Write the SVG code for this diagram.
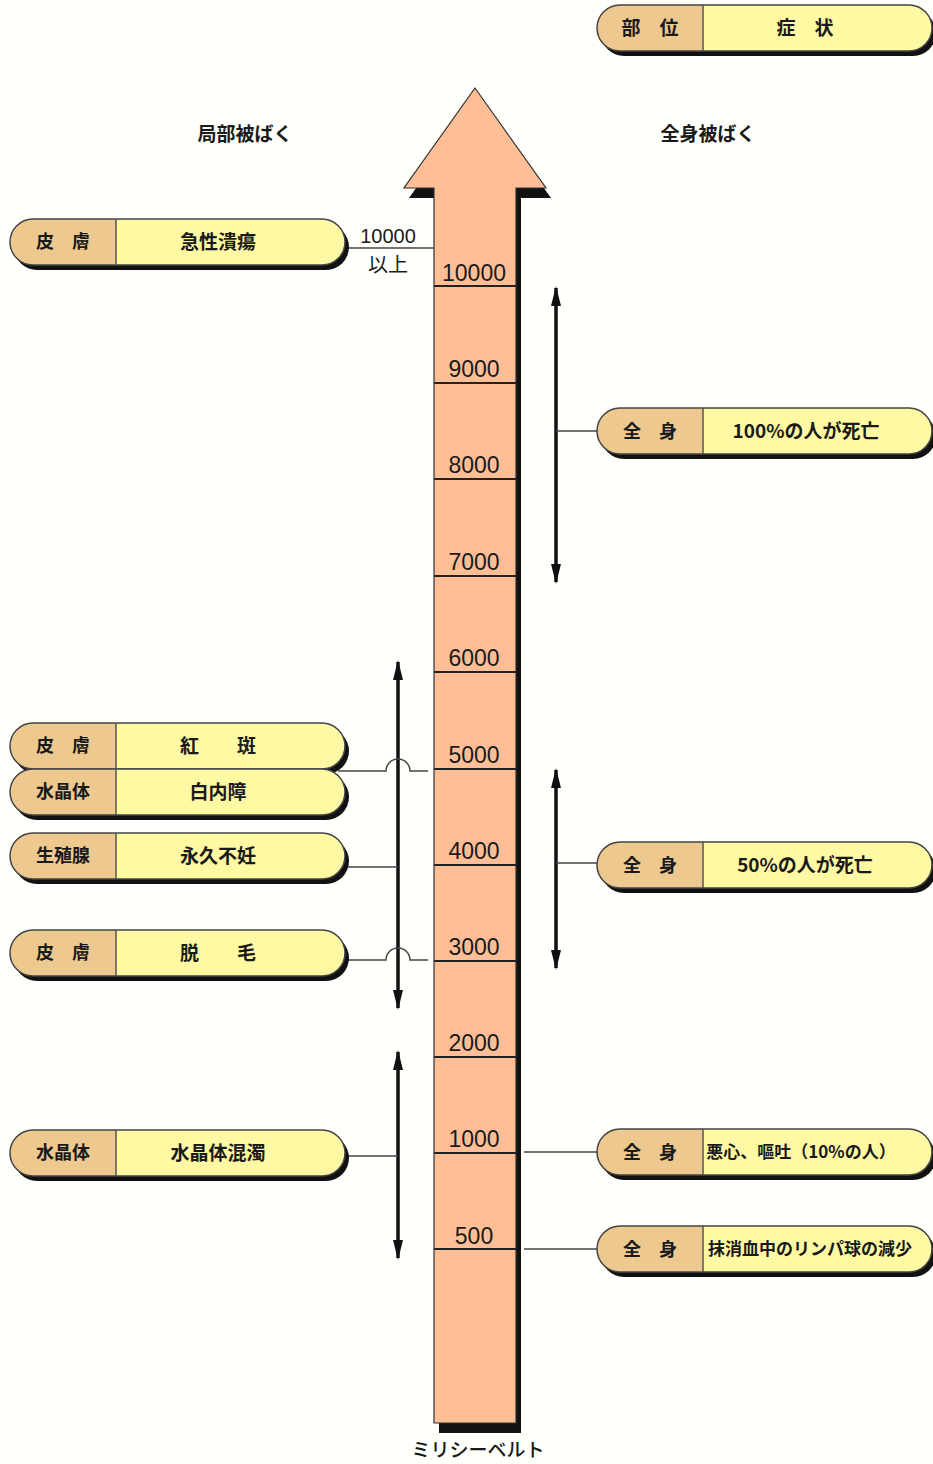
<svg xmlns="http://www.w3.org/2000/svg" xmlns:xlink="http://www.w3.org/1999/xlink" width="933" height="1464" viewBox="0 0 933 1464">
<style>
text{font-family:"Noto Sans CJK JP","Noto Sans",sans-serif;fill:#1a1a1a}
.pl{font-size:18px;font-weight:bold;text-anchor:middle}
.pr{font-size:19px;font-weight:bold;text-anchor:middle}
.hd{font-size:19px;font-weight:bold;text-anchor:middle}
.num{font-family:"Liberation Sans",Arial,sans-serif;font-size:23px;text-anchor:middle}
.sm{font-family:"Liberation Sans","Noto Sans CJK JP",sans-serif;font-size:20px;text-anchor:middle}
.tick{stroke:#222;stroke-width:2}
.con{stroke:#444;stroke-width:1.5;fill:none}
.dbl{stroke:#111;stroke-width:3.5;marker-start:url(#ah);marker-end:url(#ah)}
</style>
<defs>
<marker id="ah" viewBox="0 0 20 10" refX="18" refY="5" markerWidth="20" markerHeight="10" markerUnits="userSpaceOnUse" orient="auto-start-reverse">
<path d="M0,0 L20,5 L0,10 Z" fill="#111"/>
</marker>
<g id="pill">
<rect x="4" y="5" width="335" height="46" rx="23" fill="#111"/>
<rect width="335" height="46" rx="23" fill="#EDC88F"/>
<path d="M106,0 H312 A23,23 0 0 1 312,46 H106 Z" fill="#FFF9A3"/>
<rect width="335" height="46" rx="23" fill="none" stroke="#444" stroke-width="1.5"/>
<line x1="106" y1="0" x2="106" y2="46" stroke="#555" stroke-width="1.5"/>
</g>
</defs>
<rect width="933" height="1464" fill="#FFFFFC"/>

<g id="scale-arrow">
<polygon points="480,98 551,198 521,198 521,1433 439,1433 439,198 409,198" fill="#111"/>
<polygon points="475,88 546,188 516,188 516,1423 434,1423 434,188 404,188" fill="#FFBE96" stroke="#333" stroke-width="1.2"/>
<line class="tick" x1="434" y1="286" x2="516" y2="286"/>
<line class="tick" x1="434" y1="383" x2="516" y2="383"/>
<line class="tick" x1="434" y1="479" x2="516" y2="479"/>
<line class="tick" x1="434" y1="576" x2="516" y2="576"/>
<line class="tick" x1="434" y1="672" x2="516" y2="672"/>
<line class="tick" x1="434" y1="769" x2="516" y2="769"/>
<line class="tick" x1="434" y1="865" x2="516" y2="865"/>
<line class="tick" x1="434" y1="961" x2="516" y2="961"/>
<line class="tick" x1="434" y1="1057" x2="516" y2="1057"/>
<line class="tick" x1="434" y1="1153" x2="516" y2="1153"/>
<line class="tick" x1="434" y1="1249" x2="516" y2="1249"/>
<text class="num" x="474" y="281">10000</text>
<text class="num" x="474" y="377">9000</text>
<text class="num" x="474" y="473">8000</text>
<text class="num" x="474" y="570">7000</text>
<text class="num" x="474" y="666">6000</text>
<text class="num" x="474" y="763">5000</text>
<text class="num" x="474" y="859">4000</text>
<text class="num" x="474" y="955">3000</text>
<text class="num" x="474" y="1051">2000</text>
<text class="num" x="474" y="1147">1000</text>
<text class="num" x="474" y="1244">500</text>
<text class="hd" x="478" y="1457" style="font-weight:500">ミリシーベルト</text>
</g>

<g id="headers">
<text class="hd" x="245" y="141">局部被ばく</text>
<text class="hd" x="708" y="141">全身被ばく</text>
</g>

<g id="connectors">
<line class="con" x1="343" y1="248" x2="434" y2="248"/>
<text class="sm" x="388" y="243">10000</text>
<text class="sm" x="388" y="272">以上</text>
<line class="dbl" x1="398" y1="662" x2="398" y2="1008"/>
<line class="dbl" x1="398" y1="1052" x2="398" y2="1258"/>
<line class="dbl" x1="556" y1="288" x2="556" y2="582"/>
<line class="dbl" x1="556" y1="770" x2="556" y2="968"/>
<path class="con" d="M338,771 H386 A12,12 0 0 1 410,771 H428"/>
<path class="con" d="M343,867 H398"/>
<path class="con" d="M343,960 H386 A12,12 0 0 1 410,960 H428"/>
<path class="con" d="M343,1156 H398"/>
<path class="con" d="M556,431 H600"/>
<path class="con" d="M556,863 H600"/>
<path class="con" d="M524,1152 H600"/>
<path class="con" d="M524,1249 H600"/>
</g>

<g id="legend">
<use xlink:href="#pill" x="597" y="5"/>
<text class="pr" x="650" y="35">部　位</text>
<text class="pr" x="805" y="35">症　状</text>
</g>

<g id="node-skin-ulcer">
<use xlink:href="#pill" x="10" y="219"/>
<text class="pl" x="63" y="248">皮　膚</text>
<text class="pr" x="218" y="249">急性潰瘍</text>
</g>
<g id="node-skin-erythema">
<use xlink:href="#pill" x="10" y="723"/>
<text class="pl" x="63" y="752">皮　膚</text>
<text class="pr" x="218" y="753">紅　　斑</text>
</g>
<g id="node-lens-cataract">
<use xlink:href="#pill" x="10" y="769"/>
<text class="pl" x="63" y="798">水晶体</text>
<text class="pr" x="218" y="799">白内障</text>
</g>
<g id="node-gonad">
<use xlink:href="#pill" x="10" y="833"/>
<text class="pl" x="63" y="862">生殖腺</text>
<text class="pr" x="218" y="863">永久不妊</text>
</g>
<g id="node-skin-hair">
<use xlink:href="#pill" x="10" y="930"/>
<text class="pl" x="63" y="959">皮　膚</text>
<text class="pr" x="218" y="960">脱　　毛</text>
</g>
<g id="node-lens-opacity">
<use xlink:href="#pill" x="10" y="1130"/>
<text class="pl" x="63" y="1159">水晶体</text>
<text class="pr" x="218" y="1160">水晶体混濁</text>
</g>

<g id="node-body-100">
<use xlink:href="#pill" x="597" y="408"/>
<text class="pl" x="650" y="438">全　身</text>
<text class="pr" x="806" y="438">100%の人が死亡</text>
</g>
<g id="node-body-50">
<use xlink:href="#pill" x="597" y="842"/>
<text class="pl" x="650" y="872">全　身</text>
<text class="pr" x="805" y="872">50%の人が死亡</text>
</g>
<g id="node-body-nausea">
<use xlink:href="#pill" x="597" y="1129"/>
<text class="pl" x="650" y="1159">全　身</text>
<text class="pr" x="801" y="1158" style="font-size:17px">悪心、嘔吐（10%の人）</text>
</g>
<g id="node-body-lymph">
<use xlink:href="#pill" x="597" y="1226"/>
<text class="pl" x="650" y="1256">全　身</text>
<text class="pr" x="810" y="1255" style="font-size:17px">抹消血中のリンパ球の減少</text>
</g>
</svg>
